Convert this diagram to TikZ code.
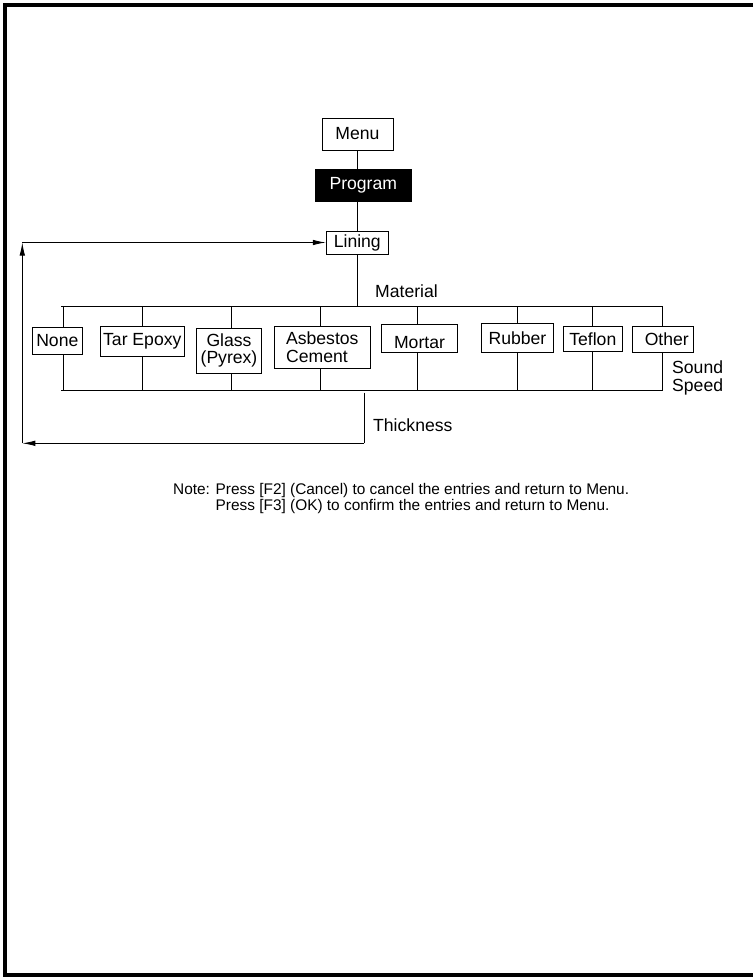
\documentclass[tikz,border=0pt]{standalone}
\usepackage{fontspec}
\setmainfont{Liberation Sans}
\usetikzlibrary{arrows.meta}
\definecolor{MNInk}{HTML}{000000}
\definecolor{MNPaper}{HTML}{FFFFFF}
\tikzset{
  flow/.style={-{Latex[length=13pt,width=5.5pt]},MNInk,line width=0.9pt},
  wire/.style={MNInk,line width=0.9pt},
  keybox/.style={draw=MNInk,line width=0.9pt,fill=MNPaper,text=MNInk,inner sep=0pt,
                 align=center,font=\fontsize{17.6}{17.2}\selectfont},
  keyboxdark/.style={keybox,fill=MNInk,text=MNPaper},
  sidelabel/.style={text=MNInk,inner sep=0pt,align=left,font=\fontsize{17.6}{18.4}\selectfont},
  notetext/.style={text=MNInk,inner sep=0pt,align=left,font=\fontsize{15.4}{15.6}\selectfont},
  pageframe/.style={MNInk,line width=4pt},
}

\begin{document}
\begin{tikzpicture}[x=1pt,y=-1pt]
    \useasboundingbox (0,0) rectangle (753,977);
    \draw[pageframe] (753,4.7) -- (4.7,4.7) -- (4.7,975.3) -- (753,975.3);

    % menu path
    \node[keybox,minimum width=71pt,minimum height=32pt] (menu) at (357.5,134) {Menu};
    \node[keyboxdark,minimum width=96.7pt,minimum height=32.7pt] (program) at (363.3,185.3) {Program};
    \node[keybox,minimum width=62pt,minimum height=23pt] (lining) at (357.3,242.5) {Lining};

    % material choices
    \node[keybox,minimum width=50pt,minimum height=27pt] (none) at (57.3,340.8) {None};
    \node[keybox,minimum width=84pt,minimum height=30.7pt] (tarepoxy) at (142.3,341.3) {Tar Epoxy};
    \node[keybox,minimum width=65.4pt,minimum height=45pt] (glass) at (229,350.8) {Glass\\(Pyrex)};
    \node[keybox,align=left,minimum width=96pt,minimum height=42.3pt] (asbestos) at (322.3,347.2) {Asbestos\\Cement};
    \node[keybox,minimum width=76.4pt,minimum height=28pt] (mortar) at (419.5,338.3) {\raisebox{-4pt}[12.6pt][0pt]{Mortar}};
    \node[keybox,minimum width=71.6pt,minimum height=29pt] (rubber) at (517.5,337.8) {Rubber};
    \node[keybox,minimum width=61pt,minimum height=26.3pt] (other) at (662.8,339.2) {\hspace*{8pt}Other};
    \node[keybox,minimum width=59pt,minimum height=25.7pt] (teflon) at (592.8,338.8) {Teflon};

    \node[sidelabel,anchor=base west] (material) at (375,297) {Material};
    \node[sidelabel,anchor=west] (soundspeed) at (672,378.2) {Sound\\Speed};
    \node[sidelabel,anchor=base west] (thickness) at (373,431.7) {Thickness};

    \node[notetext,anchor=west] (note) at (173,498.5)
      {Note: Press [F2] (Cancel) to cancel the entries and return to Menu.\\
       \phantom{Note: }Press [F3] (OK) to confirm the entries and return to Menu.};

    \coordinate (matbus) at (357.3,306);
    \coordinate (spdbus) at (364.3,390);
    \coordinate (thkcorner) at (364.3,443.3);
    \coordinate (retbl) at (22.3,443.3);
    \coordinate (rettl) at (22.3,242.5);

    \draw[wire] (menu.south) -- (menu.south |- program.north);
    \draw[wire] (lining.north |- program.south) -- (lining.north);
    \draw[wire] (lining.south) -- (lining.south |- matbus);

    % buses
    \draw[wire] ([xshift=4pt]none.north |- matbus) -- (other.north |- matbus);
    \draw[wire] ([xshift=4pt]none.south |- spdbus) -- (other.south |- spdbus);

    \draw[wire] ([xshift=5.7pt]none.north |- matbus) -- ([xshift=5.7pt]none.north);
    \draw[wire] (tarepoxy.north |- matbus) -- (tarepoxy.north);
    \draw[wire] ([xshift=2.7pt]glass.north |- matbus) -- ([xshift=2.7pt]glass.north);
    \draw[wire] ([xshift=-1.6pt]asbestos.north |- matbus) -- ([xshift=-1.6pt]asbestos.north);
    \draw[wire] ([xshift=-2.2pt]mortar.north |- matbus) -- ([xshift=-2.2pt]mortar.north);
    \draw[wire] (rubber.north |- matbus) -- (rubber.north);
    \draw[wire] (teflon.north |- matbus) -- (teflon.north);
    \draw[wire] (other.north |- matbus) -- (other.north);

    \draw[wire] ([xshift=5.7pt]none.south) -- ([xshift=5.7pt]none.south |- spdbus);
    \draw[wire] (tarepoxy.south) -- (tarepoxy.south |- spdbus);
    \draw[wire] ([xshift=2.7pt]glass.south) -- ([xshift=2.7pt]glass.south |- spdbus);
    \draw[wire] ([xshift=-1.6pt]asbestos.south) -- ([xshift=-1.6pt]asbestos.south |- spdbus);
    \draw[wire] ([xshift=-2.2pt]mortar.south) -- ([xshift=-2.2pt]mortar.south |- spdbus);
    \draw[wire] (rubber.south) -- (rubber.south |- spdbus);
    \draw[wire] (teflon.south) -- (teflon.south |- spdbus);
    \draw[wire] (other.south) -- (other.south |- spdbus);

    % return to lining
    \draw[wire] ([yshift=-2.5pt]spdbus) -- (thkcorner);
    \draw[flow] (thkcorner) -- (retbl);
    \draw[flow] (retbl) -- (rettl);
    \draw[flow] (rettl) -- (lining.west);
  \end{tikzpicture}
\end{document}
